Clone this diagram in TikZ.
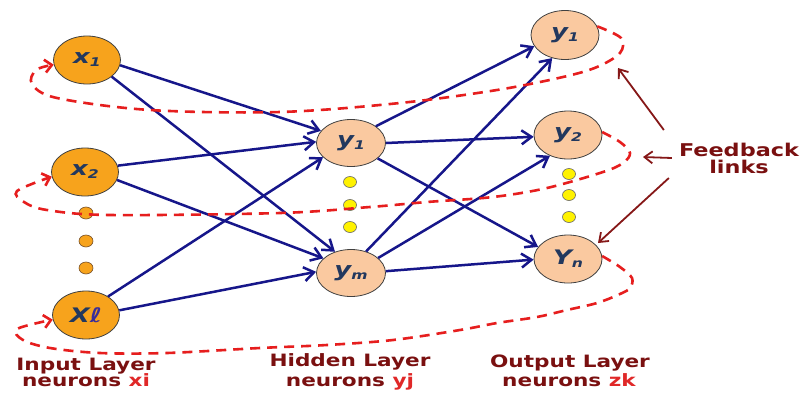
\documentclass[tikz,border=0pt]{standalone}
\usepackage{fontspec}
\usepackage{graphicx}
\usetikzlibrary{arrows.meta,shapes.geometric}
\newfontfamily\lblfont{DejaVu Sans}[FakeStretch=1.27]
\newfontfamily\nodefont{DejaVu Sans}[FakeStretch=1.3]
\definecolor{inorange}{HTML}{F7A31C}
\definecolor{peach}{HTML}{FAC9A0}
\definecolor{dotyellow}{HTML}{FFF200}
\definecolor{linkblue}{HTML}{16168A}
\definecolor{fbred}{HTML}{E61E1E}
\definecolor{fbdark}{HTML}{861818}
\definecolor{lblred}{HTML}{7A1010}
\definecolor{subred}{HTML}{E02828}
\definecolor{ntxt}{HTML}{22385E}
\definecolor{ellcol}{HTML}{3A2E9A}
\newcommand\sbx[1]{\raisebox{-3pt}{\fontsize{12}{12}\selectfont #1}}
\tikzset{
  ntext/.style={font=\nodefont\bfseries\itshape\fontsize{20}{20}\selectfont, text=ntxt},
  inp/.style={ellipse, draw=black!75, line width=0.8pt, fill=inorange, minimum width=67pt, minimum height=48pt, inner sep=0pt, ntext},
  hid/.style={ellipse, draw=black!75, line width=0.8pt, fill=peach, minimum width=69pt, minimum height=47pt, inner sep=0pt, ntext},
  odot/.style={ellipse, draw=brown!60!black, line width=0.6pt, fill=inorange, minimum width=14pt, minimum height=12pt, inner sep=0pt},
  ydot/.style={ellipse, draw=black!60, line width=0.6pt, fill=dotyellow, minimum width=13pt, minimum height=11pt, inner sep=0pt},
  conn/.style={draw=linkblue, line width=2.5pt, -{Straight Barb[length=10pt,width=14pt]}},
  fbk/.style={draw=fbred, line width=2.6pt, dash pattern=on 10pt off 7pt, -{Straight Barb[length=7pt,width=13pt]}},
  fbl/.style={draw=fbdark, line width=1.8pt, -{Straight Barb[length=8pt,width=12pt]}},
  lbl/.style={font=\lblfont\bfseries\fontsize{17}{20}\selectfont, text=lblred, anchor=base, inner sep=0pt},
}
\begin{document}
\begin{tikzpicture}[x=1pt,y=-1pt]
\useasboundingbox (0,0) rectangle (801,392);
\fill[white] (0,0) rectangle (801,392);
% input layer
\node[inp] (x1) at (87,60) {x\sbx{1}};
\node[inp] (x2) at (85,172) {x\sbx{2}};
\node[inp] (xl) at (86,315) {X{\color{ellcol}ℓ}};
\node[odot] (od1) at (86,213) {};
\node[odot] (od2) at (86,241) {};
\node[odot] (od3) at (86,268) {};
% hidden layer
\node[hid] (h1) at (351,143) {y\sbx{1}};
\node[hid] (hm) at (351,273) {y\sbx{m}};
\node[ydot] (hd1) at (350,182) {};
\node[ydot] (hd2) at (350,205) {};
\node[ydot] (hd3) at (350,227) {};
% output layer
\node[hid, minimum width=68pt, minimum height=49pt] (o1) at (565,35) {y\sbx{1}};
\node[hid, minimum width=68pt, minimum height=48pt] (o2) at (568,135) {y\sbx{2}};
\node[hid, minimum width=68pt, minimum height=48pt] (on) at (568,259) {Y\sbx{n}};
\node[ydot] (od4) at (569,174) {};
\node[ydot] (od5) at (569,195) {};
\node[ydot] (od6) at (569,217) {};
% connections input -> hidden
\draw[conn] (x1.-9) -- (h1.158);
\draw[conn] (x1.-34) -- (hm.127);
\draw[conn] (x2.11) -- (h1.178);
\draw[conn] (x2.-14) -- (hm.152);
\draw[conn] (xl.40) -- (h1.-153);
\draw[conn] (xl.8) -- (hm.178);
% hidden -> output
\draw[conn] (h1.34) -- (o1.-160);
\draw[conn] (h1.0) -- (o2.183);
\draw[conn] (h1.-30) -- (on.158);
\draw[conn] (hm.55) -- (o1.-119);
\draw[conn] (hm.29) -- (o2.-131);
\draw[conn] (hm.3) -- (on.181);
% feedback loops
\draw[fbk] plot[smooth, tension=0.55] coordinates {(o1.15) (621,38) (620,53) (597,67) (563,77) (497,90) (400,103) (280,112) (150,110) (57,98) (32,84) (36,70) (x1.188)};
\draw[fbk] plot[smooth, tension=0.55] coordinates {(o2.5) (620,142) (630,153) (623,163) (603,172) (547,188) (493,197) (427,202) (370,207) (280,213) (110,215) (47,210) (24,202) (17,191) (x2.188)};
\draw[fbk] plot[smooth, tension=0.55] coordinates {(on.5) (620,267) (632,278) (630,288) (620,294) (597,303) (567,310) (537,317) (497,323) (460,330) (393,340) (327,345) (260,348) (167,353) (100,353) (50,348) (23,340) (17,329) (xl.188)};
% feedback label
\node[font=\lblfont\bfseries\fontsize{17.6}{17}\selectfont, text=lblred, align=center, inner sep=2pt] (fb) at (739,158) {Feedback\\links};
\coordinate (t1) at (618,68);
\coordinate (t2) at (643,157);
\coordinate (t3) at (598,243);
\draw[fbl] ([shift={(-13,-28)}]fb.west) -- (t1);
\draw[fbl] ([shift={(-5,0)}]fb.west) -- (t2);
\draw[fbl] ([shift={(-8,20)}]fb.west) -- (t3);
% layer labels
\node[lbl] (il) at (86,370) {Input Layer};
\node[lbl] (in) at (86,386) {neurons {\color{subred}xi}};
\node[lbl] (hl) at (350,366) {Hidden Layer};
\node[lbl] (hn) at (350,386) {neurons {\color{subred}yj}};
\node[lbl] (ol) at (570,367) {Output Layer};
\node[lbl] (on2) at (569,386) {neurons {\color{subred}zk}};
\end{tikzpicture}
\end{document}
